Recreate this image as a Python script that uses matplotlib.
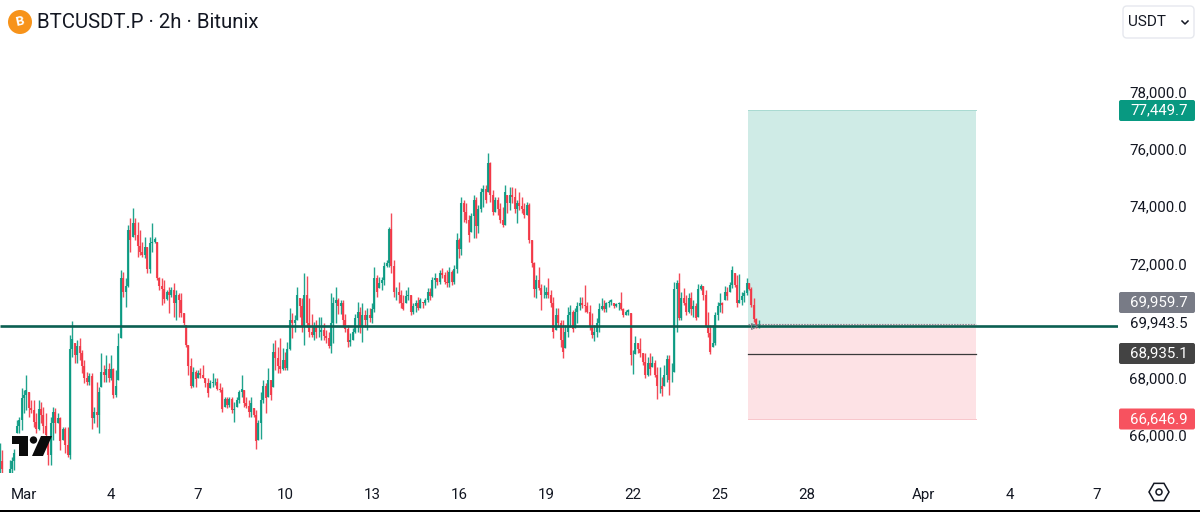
import numpy as np
import pandas as pd
import matplotlib
matplotlib.use('Agg')
import matplotlib.pyplot as plt
import matplotlib.dates as mdates
from matplotlib.patches import Circle, FancyBboxPatch, Polygon, RegularPolygon, Rectangle
from matplotlib.ticker import FuncFormatter
from matplotlib.transforms import ScaledTranslation

plt.rcParams['font.family'] = ['Roboto', 'DejaVu Sans']

highs = [
    65800, 65560, 64700, 64750, 65220, 65330, 65620, 66615, 66730, 67720, 67665, 68190,
    67610, 67315, 67315, 66850, 67315, 67260, 67080, 66850, 66030, 66730, 67080, 67020,
    66850, 66730, 66380, 66380, 66380, 69590, 70090, 69300, 69410, 69470, 69060, 68710,
    68300, 68250, 68250, 67080, 67950, 67780, 68970, 68540, 68890, 68600, 68890, 68420,
    68360, 69650, 71860, 71800, 71570, 73440, 73670, 74020, 73670, 73550, 73260, 72850,
    73030, 72680, 73030, 73520, 73030, 72850, 71630, 71570, 71510, 71160, 71280, 71280,
    71400, 71160, 71050, 71050, 70350, 69940, 69240, 68770, 68480, 68360, 68360, 68420,
    68540, 68070, 68070, 68010, 68250, 68070, 68070, 67900, 67780, 67430, 67430, 67430,
    67430, 67260, 67430, 67665, 68190, 67665, 67430, 67315, 67430, 67020, 66965, 66615,
    67610, 68010, 67900, 68420, 68010, 69300, 69410, 69180, 69470, 69120, 69000, 69350,
    70520, 70350, 70290, 71260,
    70870, 70870, 71745, 71650, 70870, 70340, 70050, 70110, 70230, 70230, 70000, 69760,
    69700, 71050, 70930, 71280, 70870, 70810, 70810, 70340, 69940, 69650, 69820, 70340,
    70750, 70580, 70700, 70460, 70520, 70520, 70700, 71980, 71690, 71630, 71630, 72150,
    72210, 73380, 73870, 72210, 71280, 71450, 71160, 70990, 71160, 71280, 70990, 70700,
    70810, 70930, 70870, 70750, 70870, 71220, 71220, 71630, 71745, 71570, 71860,
    71920, 71800, 71860, 71980, 71860, 72040, 73140, 72970, 74430, 74310, 74190, 73785,
    73840, 74480, 74430, 74130, 74720, 74840, 74840, 75960, 75650, 74660, 74430, 74430,
    74190, 74080, 74840, 74480, 74780, 74780, 74720, 74310, 74600, 74430, 74190, 74250,
    74220, 72910, 72150, 71690, 71980, 71390, 71340, 71280, 71570, 71160, 70930, 70520,
    70520, 70110, 70110, 69940, 70580, 70640, 70460, 70520, 70750, 70930,
    70930, 71340, 70750, 70640, 70350, 69940, 70170, 70700, 70890, 70810, 70750, 70810,
    70840, 70700, 70720, 70750, 71080, 70520, 70460, 70490, 70350, 69060, 69550, 69300,
    69470, 68970, 68950, 68830, 68950, 68850, 68710, 68480, 68480, 68130, 68540, 68890,
    68890, 68600, 71450, 71510, 71770, 71100, 71220, 70990, 71050, 71080, 70810, 70700,
    71360, 71360, 71300, 71160, 70400, 69940, 69940, 70400, 70750, 71050, 70750, 71300,
    71280, 71450, 72000, 71750, 71690, 71720, 71100, 71160, 71570, 71420, 71280, 70890,
    70170, 70110,
]
lows = [
    64600, 64600, 64300, 64300, 64700, 64700, 64870, 66150, 66150, 66265, 66850, 66965,
    66730, 66850, 66380, 66150, 66265, 66500, 66150, 65800, 65040, 65040, 65915, 66150,
    66500, 65560, 65915, 65450, 65330, 65270, 68830, 68600, 68600, 68710, 68250, 67900,
    67840, 67840, 66320, 66500, 66380, 66150, 67780, 67950, 67950, 67950, 68010, 67370,
    67430, 68010, 69470, 70930, 70580, 71280, 72500, 73030, 72910, 72330, 72390, 72330,
    72270, 71750, 71750, 72500, 72795, 71510, 71160, 70640, 70700, 70810, 70350, 70930,
    70230, 70110, 70230, 70230, 69940, 69180, 68190, 67720, 67780, 67780, 68070, 68070,
    68070, 67780, 67430, 67720, 67780, 67840, 67665, 67610, 66910, 67080, 67020, 67080,
    66850, 66560, 67080, 67200, 67430, 67080, 67020, 66730, 66730, 66730, 65620, 65915,
    65970, 67200, 66850, 67430, 67315, 67780, 68360, 68250, 68250, 68360, 68360, 68360,
    69060, 69470, 69700, 70110,
    70230, 69700, 69240, 69880, 69530, 69530, 69410, 69470, 69530, 69410, 69410, 69300,
    69120, 68970, 69300, 70000, 70340, 70340, 69880, 69700, 69180, 69200, 69410, 69650,
    69700, 69650, 69350, 69880, 69760, 70050, 70000, 70400, 70930, 71220, 71160, 71340,
    71980, 71980, 71750, 70930, 70830, 70700, 70520, 70460, 70700, 70810, 70290, 70340,
    70400, 70460, 70520, 70520, 70640, 70750, 70810, 70930, 71220, 71340, 71390,
    71570, 71390, 71280, 71280, 71340, 71390, 71745, 72270, 72390, 73550, 73490, 72850,
    73200, 72970, 72970, 73140, 73900, 74080, 74190, 74600, 74250, 73785, 73900, 73785,
    73490, 73350, 73435, 73840, 73960, 74190, 73840, 73490, 73960, 73840, 73670, 73785,
    72795, 71980, 70930, 70870, 71160, 70460, 70870, 70870, 70870, 70580, 69470, 69760,
    69880, 69180, 68770, 69120, 69530, 69880, 69700, 69820, 70000, 70460,
    70520, 70400, 70350, 69760, 69470, 69390, 69530, 69700, 70460, 70400, 70400, 70580,
    70640, 70520, 70580, 70460, 70460, 70230, 70290, 70290, 68540, 68220, 68920, 68950,
    68830, 68540, 68070, 68150, 68190, 68480, 68130, 67340, 67550, 67450, 67800, 67950,
    67490, 67950, 68300, 69700, 70110, 70110, 70640, 70290, 70350, 70290, 70230, 70110,
    70230, 71160, 70810, 69880, 69530, 68920, 69180, 69240, 70110, 70400, 70350, 70810,
    70810, 71100, 71250, 71280, 70580, 70700, 70640, 70750, 70990, 71160, 70580, 70050,
    69820, 69820,
]
closes = [
    65200, 64900, 64500, 64650, 64900, 65200, 65450, 66400, 66600, 67400, 67500, 67650,
    67050, 66950, 66550, 66300, 67000, 66800, 66400, 66100, 65400, 66500, 66900, 66500,
    66700, 65900, 66300, 65750, 65400, 69100, 69450, 68900, 69200, 68950, 68500, 68100,
    67950, 68150, 66700, 66900, 66800, 67600, 68300, 68200, 68400, 68100, 68400, 67500,
    67800, 69200, 71600, 71100, 71300, 73250, 72900, 73500, 73100, 72700, 72500, 72400,
    72650, 71900, 72800, 72850, 72950, 71600, 71300, 71200, 70850, 71100, 71000, 71150,
    70700, 71000, 70800, 70350, 70000, 69250, 68500, 67800, 68300, 68050, 68250, 68200,
    68100, 67900, 67550, 67900, 67950, 67950, 67700, 67650, 67000, 67350, 67150, 67350,
    66950, 67000, 67300, 67600, 67700, 67200, 67100, 66900, 67200, 66800, 65900, 66500,
    67300, 67800, 67400, 68000, 67500, 69000, 68800, 68500, 68400, 68700, 68450, 69100,
    70100, 70000, 70100, 71000,
    70600, 69900, 71000, 70000, 69700, 69600, 69900, 69700, 69700, 69750, 69550, 69500,
    69200, 70000, 70700, 70800, 70600, 70700, 70100, 69800, 69350, 69400, 69700, 70200,
    70400, 69900, 70300, 70100, 70300, 70200, 70500, 71600, 71100, 71400, 71500, 72000,
    72100, 73300, 72000, 71100, 71100, 71000, 70700, 70500, 70950, 71000, 70400, 70600,
    70700, 70550, 70800, 70700, 70800, 71100, 70950, 71500, 71600, 71450, 71750,
    71700, 71450, 71400, 71800, 71450, 71900, 72900, 72600, 74200, 73900, 73600, 73100,
    73750, 74300, 73400, 74000, 74600, 74700, 74300, 75600, 74500, 73900, 74300, 74000,
    73600, 73450, 74600, 74200, 74500, 74400, 74000, 74200, 74100, 74000, 73800, 74150,
    72900, 72100, 71200, 71500, 71250, 71000, 71000, 71100, 71000, 70700, 69700, 70300,
    70000, 69400, 69000, 69700, 70300, 70400, 69800, 70400, 70600, 70700,
    70650, 70600, 70400, 69900, 69600, 69700, 70000, 70500, 70600, 70500, 70700, 70750,
    70800, 70600, 70680, 70700, 70500, 70300, 70400, 70450, 68900, 68900, 69300, 69100,
    68950, 68650, 68200, 68600, 68400, 68600, 68200, 67800, 67800, 67700, 68200, 68750,
    68000, 68000, 71200, 71400, 70200, 70900, 70700, 70400, 70900, 70500, 70600, 70200,
    71200, 71300, 71000, 69900, 69650, 69000, 69300, 70300, 70600, 70700, 70650, 71100,
    70950, 71350, 71850, 71350, 70700, 70800, 70950, 71050, 71400, 71200, 70650, 70150,
    69950, 69960,
]

price_ticks = [66000, 68000, 72000, 74000, 76000, 78000]
tick_dates = ['2026-03-01', '2026-03-04', '2026-03-07', '2026-03-10', '2026-03-13', '2026-03-16',
              '2026-03-19', '2026-03-22', '2026-03-25', '2026-03-28', '2026-04-01', '2026-04-04',
              '2026-04-07']
tick_names = ['Mar', '4', '7', '10', '13', '16', '19', '22', '25', '28', 'Apr', '4', '7']

take_profit = 77449.7
entry = 69959.7
target_mid = 68935.1
stop = 66646.9
level = 69905
level_label = 69943.5

GREEN = '#089981'
RED = '#F23645'
W, H = 1200, 512


def px_box(x0, y0, x1, y1):
    # pixels measured from the top left of the picture
    return [x0 / W, 1 - y1 / H, (x1 - x0) / W, (y1 - y0) / H]


def px_to_date(px):
    return mdates.date2num(pd.Timestamp('2026-03-01')) + (px - 24) / 29


def to_fig(x, y):
    return x, H - y


fig = plt.figure(figsize=(12, 5.12), dpi=100, facecolor='white')
ax = fig.add_axes(px_box(0, 60, 1118, 473))
for s in ax.spines.values():
    s.set_visible(False)

times = mdates.date2num(pd.date_range('2026-02-28 04:00', periods=len(closes), freq='2h'))
highs = np.array(highs)
lows = np.array(lows)
closes = np.array(closes)
opens = np.clip(np.r_[closes[0], closes[:-1]], lows, highs)
colors = [GREEN if c >= o else RED for o, c in zip(opens, closes)]

ax.vlines(times, lows, highs, colors=colors, lw=1.0, alpha=0.9, zorder=2)
ax.vlines(times, opens, closes, colors=colors, lw=1.5, alpha=0.9, zorder=2)

# long/short position tool
t0 = mdates.date2num(pd.Timestamp('2026-03-25 23:00'))
t1 = mdates.date2num(pd.Timestamp('2026-04-02 20:00'))
ax.fill_between([t0, t1], entry, take_profit, color='#CFEBE6', lw=0, zorder=1)
ax.fill_between([t0, t1], stop, entry, color='#FDE2E5', lw=0, zorder=1)
ax.plot([t0, t1], [take_profit] * 2, color='#A9DAD2', lw=0.7, zorder=1)
ax.plot([t0, t1], [stop] * 2, color='#F8C6CB', lw=0.7, zorder=1)
ax.plot([t0, t1], [entry] * 2, color='#8C8F99', lw=0.8, ls=(0, (1.5, 1)), zorder=3)
ax.plot([t0, t1], [target_mid] * 2, color='#3A3A3A', lw=0.9, zorder=3)
ax.hlines(level, 0, 1, transform=ax.get_yaxis_transform(), color='#0B5F51', lw=1.9, zorder=4)
ax.plot(times[-3], level, marker='>', ms=5, mfc='none', mec='#787B86', mew=0.7, zorder=5)

ax.set_xlim(px_to_date(0), px_to_date(1118))
ax.set_ylim(78000 - (473 - 94.5) * 34.97, 78000 - (60 - 94.5) * 34.97)

ax.set_xticks(mdates.date2num(pd.to_datetime(tick_dates)))
ax.set_xticklabels(tick_names)
ax.set_yticks(price_ticks)
ax.yaxis.set_major_formatter(FuncFormatter(lambda v, pos: f'{v:,.1f}'))
ax.yaxis.tick_right()
ax.tick_params(axis='x', length=0, pad=11, labelsize=10.8, colors='#131722')
ax.tick_params(axis='y', length=0, pad=8, labelsize=10.8, colors='#131722')
shift = ScaledTranslation(0, 2 / 72, fig.dpi_scale_trans)
for lab in ax.get_yticklabels():
    lab.set_transform(lab.get_transform() + shift)


def price_tag(value, color, y_px, txt='white'):
    fig.patches.append(FancyBboxPatch((1119, H - y_px - 10.5), 76, 21, boxstyle='round,pad=0,rounding_size=2',
                                      transform=None, fc=color, ec='none', figure=fig))
    fig.text(1188 / W, 1 - y_px / H, f'{value:,.1f}', color=txt, fontsize=10.8, ha='right', va='center')


price_tag(take_profit, GREEN, 110.5)
price_tag(entry, '#787B86', 302.5)
price_tag(target_mid, '#434343', 353.5)
price_tag(stop, '#F7525F', 419)
fig.text(1188 / W, 1 - 323.5 / H, f'{level_label:,.1f}', color='#131722', fontsize=10.8, ha='right', va='center')

# header
fig.text(37 / W, 1 - 22 / H, 'BTCUSDT.P · 2h · Bitunix', color='#131722', fontsize=14.65, ha='left', va='center')
fig.patches.append(Circle(to_fig(20, 22), 12, transform=None, fc='#F7931A', ec='none', figure=fig))
fig.text(20 / W, 1 - 22 / H, 'B', color='white', fontsize=9.5, fontweight='bold', rotation=12, ha='center', va='center')

# currency button
fig.patches.append(FancyBboxPatch((1123, H - 38), 71, 32, boxstyle='round,pad=0,rounding_size=4', transform=None,
                                  fc='white', ec='#E6E8EE', lw=1, figure=fig))
fig.text(1128 / W, 1 - 22 / H, 'USDT', color='#131722', fontsize=11, ha='left', va='center')
fig.add_artist(plt.Line2D([1182 / W, 1185 / W, 1188 / W], [1 - 21 / H, 1 - 24 / H, 1 - 21 / H], color='#131722', lw=1.1))

# settings icon
fig.patches.append(RegularPolygon(to_fig(1159, 492), 6, radius=10, orientation=np.pi / 6, transform=None,
                                  fc='none', ec='#131722', lw=1.1, figure=fig))
fig.patches.append(Circle(to_fig(1159, 492), 3, transform=None, fc='none', ec='#131722', lw=1.1, figure=fig))

# TradingView mark
left = [(12, 436), (28, 436), (28, 456), (19, 456), (19, 444), (12, 444)]
right = [(41, 436), (52, 436), (43, 456), (32, 456)]
fig.patches.append(Polygon([to_fig(*p) for p in left], transform=None, fc='#0B0B0B', ec='none', figure=fig))
fig.patches.append(Polygon([to_fig(*p) for p in right], transform=None, fc='#0B0B0B', ec='none', figure=fig))
fig.patches.append(Circle(to_fig(33.5, 440), 3.7, transform=None, fc='#0B0B0B', ec='none', figure=fig))

# bottom edge of the screenshot
fig.patches.append(Rectangle((0, 0), W, 2, transform=None, fc='black', ec='none', figure=fig))

fig.savefig('out.png', dpi=100)
